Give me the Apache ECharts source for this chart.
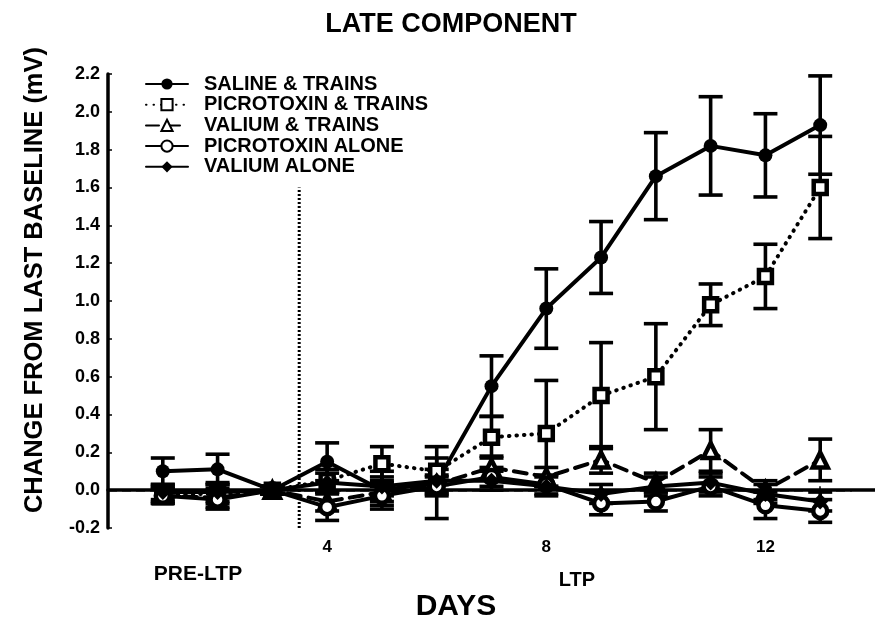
<!DOCTYPE html>
<html>
<head>
<meta charset="utf-8">
<script src="https://cdn.jsdelivr.net/npm/echarts@6/dist/echarts.min.js"></script>
<style>
  html, body { margin: 0; padding: 0; background: #fff; }
  #chart { width: 875px; height: 624px; }
</style>
</head>
<body>
<div id="chart"></div>
<script>
// Recording days
const days = [1, 2, 3, 4, 5, 6, 7, 8, 9, 10, 11, 12, 13];
const xTickLabels = [4, 8, 12];

// Mean change from last baseline (mV) and SEM per group
const salineTrains     = [0.10, 0.11, 0.00, 0.15, 0.00, 0.04, 0.55, 0.96, 1.23, 1.66, 1.82, 1.77, 1.93];
const salineTrainsErr  = [0.07, 0.08, 0.02, 0.10, 0.10, 0.19, 0.16, 0.21, 0.19, 0.23, 0.26, 0.22, 0.26];

const picroTrains      = [-0.02, -0.02, 0.00, 0.05, 0.14, 0.10, 0.28, 0.30, 0.50, 0.60, 0.98, 1.13, 1.60];
const picroTrainsErr   = [0.04, 0.05, 0.02, 0.06, 0.09, 0.07, 0.11, 0.28, 0.28, 0.28, 0.11, 0.17, 0.27];

const valiumTrains     = [-0.03, -0.04, 0.00, -0.06, -0.01, 0.03, 0.12, 0.07, 0.16, 0.04, 0.21, 0.00, 0.16];
const valiumTrainsErr  = [0.04, 0.05, 0.02, 0.05, 0.05, 0.05, 0.06, 0.05, 0.07, 0.05, 0.11, 0.05, 0.11];

const picroAlone       = [-0.03, -0.05, 0.00, -0.09, -0.03, 0.02, 0.07, 0.03, -0.07, -0.06, 0.02, -0.08, -0.11];
const picroAloneErr    = [0.04, 0.05, 0.02, 0.07, 0.05, 0.05, 0.05, 0.05, 0.06, 0.05, 0.05, 0.07, 0.06];

const valiumAlone      = [-0.01, -0.01, 0.00, 0.04, 0.02, 0.05, 0.05, 0.02, -0.02, 0.02, 0.04, -0.02, -0.06];
const valiumAloneErr   = [0.04, 0.05, 0.02, 0.05, 0.05, 0.06, 0.05, 0.05, 0.05, 0.05, 0.05, 0.05, 0.05];

const groupNames = [
  'SALINE & TRAINS',
  'PICROTOXIN & TRAINS',
  'VALIUM & TRAINS',
  'PICROTOXIN ALONE',
  'VALIUM ALONE'
];

// Axis extents and reference lines
const xMin = 0, xMax = 14;
const yMin = -0.2, yMax = 2.2, yStep = 0.2;
const baselineEnd = 13.58;
const ltpStartDay = 3.49;
const ltpLineTop = 1.6;

const FONT = '"Liberation Sans", Arial, sans-serif';
const INK = '#000';

function pairs(values) {
  return days.map((d, i) => [d, values[i]]);
}
function ranges(values, errs) {
  return days.map((d, i) => [d, values[i] - errs[i], values[i] + errs[i]]);
}

const CAP = 12;
function errorBarItem(params, api) {
  const x = api.value(0);
  const lo = api.coord([x, api.value(1)]);
  const hi = api.coord([x, api.value(2)]);
  const style = { stroke: INK, lineWidth: 3.6, fill: null };
  return {
    type: 'group',
    children: [
      { type: 'line', shape: { x1: lo[0], y1: lo[1], x2: hi[0], y2: hi[1] }, style: style },
      { type: 'line', shape: { x1: hi[0] - CAP, y1: hi[1], x2: hi[0] + CAP, y2: hi[1] }, style: style },
      { type: 'line', shape: { x1: lo[0] - CAP, y1: lo[1], x2: lo[0] + CAP, y2: lo[1] }, style: style }
    ]
  };
}
function errorSeries(values, errs) {
  return {
    type: 'custom',
    renderItem: errorBarItem,
    data: ranges(values, errs),
    encode: { x: 0, y: [1, 2] },
    silent: true,
    z: 3
  };
}

function lineSeries(name, values, lineType, symbol, hollow, size) {
  return {
    name: name,
    type: 'line',
    data: pairs(values),
    symbol: symbol,
    symbolSize: size,
    showAllSymbol: true,
    lineStyle: { color: INK, width: 4, type: lineType, cap: 'round' },
    itemStyle: { color: hollow ? '#fff' : INK, borderColor: INK, borderWidth: hollow ? 4.5 : 0 },
    emphasis: { disabled: true },
    z: 4
  };
}

const chart = echarts.init(document.getElementById('chart'), null, { renderer: 'canvas' });

chart.setOption({
  animation: false,
  backgroundColor: '#fff',
  title: {
    text: 'LATE COMPONENT',
    left: 446,
    top: 6,
    textAlign: 'center',
    textStyle: { fontFamily: FONT, fontWeight: 'bold', fontSize: 27, color: INK }
  },
  grid: { left: 108, right: -5, top: 74, bottom: 96, containLabel: false },
  legend: {
    data: groupNames,
    orient: 'vertical',
    left: 140,
    top: 69,
    itemWidth: 42,
    itemHeight: 14,
    itemGap: 0.7,
    selectedMode: false,
    textStyle: {
      fontFamily: FONT, fontWeight: 'bold', fontSize: 20, lineHeight: 20, color: INK,
      padding: [0, 0, 0, 11]
    }
  },
  xAxis: {
    type: 'value',
    min: xMin,
    max: xMax,
    splitLine: { show: false },
    axisLine: { lineStyle: { color: INK, width: 3.5 } },
    axisTick: { inside: true, length: 4, lineStyle: { color: INK, width: 1.5 }, customValues: days },
    axisLabel: {
      customValues: xTickLabels,
      margin: 11,
      fontFamily: FONT, fontWeight: 'bold', fontSize: 17, color: INK
    }
  },
  yAxis: {
    type: 'value',
    min: yMin,
    max: yMax,
    interval: yStep,
    splitLine: { show: false },
    axisLine: { show: true, lineStyle: { color: INK, width: 3.5 } },
    axisTick: { show: true, inside: true, length: 4, lineStyle: { color: INK, width: 1.5 } },
    axisLabel: {
      margin: 8,
      formatter: v => v.toFixed(1),
      fontFamily: FONT, fontWeight: 'bold', fontSize: 18, color: INK
    }
  },
  series: [
    // zero baseline
    {
      type: 'line',
      data: [[xMin, 0], [baselineEnd, 0]],
      symbol: 'none',
      lineStyle: { color: INK, width: 2.5, type: [9, 5] },
      silent: true,
      z: 1
    },
    // start of LTP period
    {
      type: 'line',
      data: [[ltpStartDay, yMin], [ltpStartDay, ltpLineTop]],
      symbol: 'none',
      lineStyle: { color: INK, width: 3, type: [2, 2] },
      silent: true,
      z: 1
    },
    errorSeries(salineTrains, salineTrainsErr),
    errorSeries(picroTrains, picroTrainsErr),
    errorSeries(valiumTrains, valiumTrainsErr),
    errorSeries(picroAlone, picroAloneErr),
    errorSeries(valiumAlone, valiumAloneErr),
    lineSeries(groupNames[0], salineTrains, 'solid', 'circle', false, 14),
    lineSeries(groupNames[1], picroTrains, [0.5, 7], 'rect', true, 13),
    lineSeries(groupNames[2], valiumTrains, [13, 8], 'triangle', true, 15),
    lineSeries(groupNames[3], picroAlone, 'solid', 'circle', true, 14),
    lineSeries(groupNames[4], valiumAlone, 'solid', 'diamond', false, 16)
  ],
  graphic: [
    {
      type: 'text',
      x: 35, y: 280,
      rotation: Math.PI / 2,
      style: {
        text: 'CHANGE FROM LAST BASELINE (mV)',
        font: 'bold 25.5px ' + FONT,
        fill: INK,
        align: 'center',
        verticalAlign: 'middle'
      }
    },
    {
      type: 'text',
      x: 456, y: 607,
      style: { text: 'DAYS', font: 'bold 30px ' + FONT, fill: INK, align: 'center', verticalAlign: 'middle' }
    },
    {
      type: 'text',
      x: 198, y: 574,
      style: { text: 'PRE-LTP', font: 'bold 21px ' + FONT, fill: INK, align: 'center', verticalAlign: 'middle' }
    },
    {
      type: 'text',
      x: 577, y: 580,
      style: { text: 'LTP', font: 'bold 20px ' + FONT, fill: INK, align: 'center', verticalAlign: 'middle' }
    }
  ]
});
</script>
</body>
</html>
